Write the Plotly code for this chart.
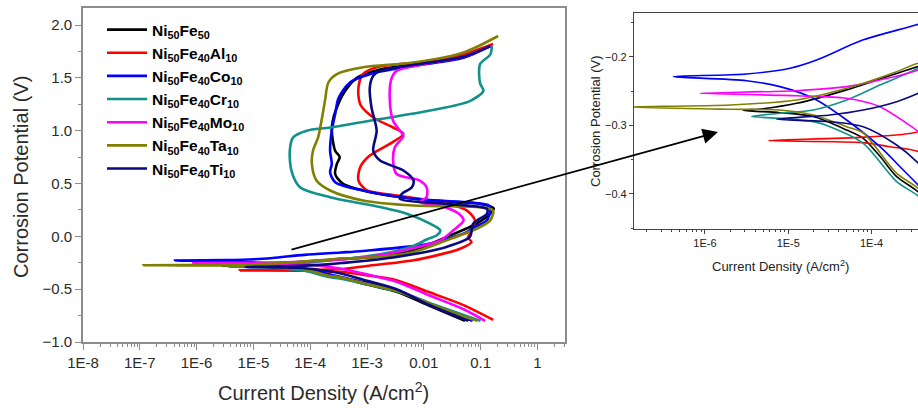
import plotly.graph_objects as go

# ---------------- data (current density A/cm2, potential V) ----------------
names = ["Ni<sub>50</sub>Fe<sub>50</sub>", "Ni<sub>50</sub>Fe<sub>40</sub>Al<sub>10</sub>",
         "Ni<sub>50</sub>Fe<sub>40</sub>Co<sub>10</sub>", "Ni<sub>50</sub>Fe<sub>40</sub>Cr<sub>10</sub>",
         "Ni<sub>50</sub>Fe<sub>40</sub>Mo<sub>10</sub>", "Ni<sub>50</sub>Fe<sub>40</sub>Ta<sub>10</sub>",
         "Ni<sub>50</sub>Fe<sub>40</sub>Ti<sub>10</sub>"]
colors = ["#000000", "#ff0000", "#0000ff", "#10918a", "#ff00ff", "#808000", "#0a0a80"]

nife_i = [0.0531, 0.0126, 3.31e-3, 1.0e-3, 3.63e-4, 2.0e-4, 1.26e-4, 7.94e-5, 5.01e-5, 2.0e-5, 7.94e-6, 2.88e-6,
          5.01e-6, 1.26e-5, 5.01e-5, 2.0e-4, 3.63e-4, 1.70e-3, 6.61e-3, 0.0251, 0.0851, 0.148, 0.17, 0.0977,
          0.0129, 1.70e-3, 3.80e-4, 2.75e-4, 2.95e-4, 3.31e-4, 2.75e-4, 2.40e-4, 2.57e-4, 3.80e-4, 6.61e-4,
          1.70e-3, 0.0129, 0.0501, 0.148]
nife_e = [-0.80, -0.657, -0.525, -0.456, -0.397, -0.3747, -0.345, -0.3187, -0.3066, -0.287, -0.2813, -0.278,
          -0.2755, -0.2676, -0.248, -0.224, -0.214, -0.19, -0.132, -0.006, 0.12, 0.214, 0.265, 0.308,
          0.34, 0.40, 0.497, 0.59, 0.686, 0.75, 0.81, 1.0, 1.125, 1.346, 1.50,
          1.58, 1.645, 1.70, 1.80]

al_i = [0.166, 0.0501, 0.0126, 3.31e-3, 1.0e-3, 3.63e-4, 1.66e-4, 7.94e-5, 5.75e-6,
        7.94e-5, 3.63e-4, 1.0e-3, 6.61e-3, 0.0437, 0.0692, 0.0603, 0.0692, 0.0794, 0.0569, 0.0195, 3.31e-3,
        1.0e-3, 7.08e-4, 7.59e-4, 1.12e-3, 2.51e-3, 4.37e-3, 2.88e-3, 1.29e-3, 7.59e-4, 7.08e-4, 8.51e-4,
        1.48e-3, 0.0151, 0.0501, 0.166]
al_e = [-0.79, -0.651, -0.53, -0.415, -0.37, -0.338, -0.331, -0.325, -0.322,
        -0.317, -0.309, -0.28, -0.227, -0.117, -0.054, -0.013, 0.057, 0.151, 0.245, 0.324, 0.387,
        0.434, 0.528, 0.654, 0.764, 0.875, 0.97, 1.03, 1.125, 1.25, 1.41, 1.535,
        1.60, 1.66, 1.72, 1.82]

co_i = [0.0724, 0.0501, 0.0126, 3.31e-3, 1.0e-3, 3.63e-4, 2.40e-4, 1.26e-4, 5.01e-5, 2.0e-5, 7.94e-6, 3.16e-6, 4.17e-7,
        3.16e-6, 1.05e-5, 2.19e-5, 7.94e-5, 3.47e-4, 8.51e-4, 0.0129, 0.0569, 0.0741, 0.129, 0.148, 0.14,
        0.0501, 6.61e-3, 8.51e-4, 2.75e-4, 2.24e-4, 2.40e-4, 2.24e-4, 2.40e-4, 2.75e-4, 3.16e-4, 5.01e-4,
        1.12e-3, 6.61e-3, 0.0501, 0.148]
co_e = [-0.80, -0.77, -0.635, -0.51, -0.44, -0.387, -0.365, -0.331, -0.292, -0.2603, -0.2433, -0.2346, -0.2287,
        -0.2248, -0.2165, -0.2044, -0.175, -0.153, -0.138, -0.069, 0.04, 0.08, 0.151, 0.25, 0.292,
        0.324, 0.355, 0.434, 0.512, 0.607, 0.686, 0.81, 1.0, 1.158, 1.31, 1.456,
        1.535, 1.613, 1.69, 1.80]

cr_i = [0.1, 0.0126, 3.31e-3, 1.0e-3, 3.63e-4, 2.0e-4, 7.94e-5, 3.16e-5, 2.0e-5, 7.94e-6, 3.63e-6,
        7.94e-6, 2.0e-5, 5.01e-5, 1.26e-4, 3.63e-4, 1.70e-3, 6.61e-3, 0.0112, 0.017, 0.0195, 0.0129, 5.01e-3,
        1.70e-3, 2.24e-4, 6.61e-5, 4.68e-5, 4.37e-5, 5.01e-5, 8.71e-5, 2.24e-4, 1.70e-3, 0.0129, 0.0646,
        0.112, 0.0977, 0.0977, 0.148, 0.158]
cr_e = [-0.80, -0.63, -0.52, -0.455, -0.403, -0.382, -0.326, -0.3017, -0.2944, -0.2895, -0.287,
        -0.2822, -0.2774, -0.2628, -0.2409, -0.2165, -0.17, -0.09, -0.03, 0.01, 0.057, 0.12, 0.214,
        0.277, 0.371, 0.465, 0.62, 0.81, 0.937, 1.0, 1.03, 1.11, 1.19, 1.28,
        1.377, 1.45, 1.63, 1.72, 1.80]

mo_i = [0.12, 0.0501, 0.0126, 3.31e-3, 1.0e-3, 3.63e-4, 2.63e-4, 1.26e-4, 5.01e-5, 1.26e-5, 8.71e-7,
        1.26e-5, 5.01e-5, 1.26e-4, 3.63e-4, 1.70e-3, 6.61e-3, 0.0195, 0.0331, 0.0501, 0.0398, 0.0195,
        8.51e-3, 0.0112, 0.0112, 8.51e-3, 3.31e-3, 2.88e-3, 3.09e-3, 4.37e-3, 3.8e-3, 2.88e-3, 2.51e-3,
        2.69e-3, 3.31e-3, 0.0129, 0.0501, 0.148]
mo_e = [-0.80, -0.69, -0.56, -0.43, -0.36, -0.309, -0.2968, -0.2725, -0.2603, -0.2565, -0.253,
        -0.2492, -0.2433, -0.2336, -0.219, -0.18, -0.11, -0.038, 0.057, 0.151, 0.22, 0.29,
        0.324, 0.371, 0.465, 0.528, 0.59, 0.717, 0.843, 0.95, 1.0, 1.094, 1.31,
        1.49, 1.566, 1.64, 1.70, 1.80]

ta_i = [0.0891, 0.0501, 0.0126, 3.31e-3, 1.0e-3, 3.63e-4, 2.0e-4, 7.94e-5, 5.01e-5, 2.0e-5, 7.94e-6, 2.0e-6, 1.15e-7,
        2.0e-6, 1.26e-5, 5.01e-5, 2.0e-4, 3.63e-4, 1.70e-3, 6.61e-3, 0.0251, 0.0851, 0.148, 0.166, 0.0977,
        6.61e-3, 8.51e-4, 2.24e-4, 1.29e-4, 1.07e-4, 1.12e-4, 1.38e-4, 1.58e-4, 1.82e-4, 2.09e-4, 2.95e-4,
        8.51e-4, 6.61e-3, 0.0501, 0.204]
ta_e = [-0.80, -0.76, -0.635, -0.515, -0.45, -0.392, -0.370, -0.311, -0.3017, -0.2847, -0.2774, -0.2764, -0.273,
        -0.270, -0.2628, -0.2457, -0.2214, -0.209, -0.195, -0.148, -0.038, 0.072, 0.151, 0.245, 0.276,
        0.292, 0.34, 0.434, 0.528, 0.686, 0.81, 0.937, 1.094, 1.283, 1.456, 1.535,
        1.60, 1.645, 1.74, 1.896]

ti_i = [0.0603, 0.0126, 3.31e-3, 1.0e-3, 3.63e-4, 2.0e-4, 7.94e-5, 3.16e-5, 7.24e-6,
        3.16e-5, 7.94e-5, 2.0e-4, 3.63e-4, 3.31e-3, 0.0251, 0.0646, 0.0741, 0.129, 0.129, 0.0251, 3.8e-3,
        4.07e-3, 6.17e-3, 6.61e-3, 4.37e-3, 1.70e-3, 1.29e-3, 1.48e-3, 1.20e-3, 1.12e-3, 1.29e-3, 1.70e-3,
        0.0129, 0.0501, 0.148]
ti_e = [-0.80, -0.65, -0.50, -0.42, -0.355, -0.3285, -0.3017, -0.2944, -0.291,
        -0.2847, -0.2774, -0.2652, -0.253, -0.195, -0.10, -0.006, 0.12, 0.214, 0.26, 0.308, 0.355,
        0.40, 0.465, 0.528, 0.623, 0.717, 0.81, 1.0, 1.22, 1.41, 1.52, 1.566,
        1.645, 1.70, 1.80]

series = [(nife_i, nife_e), (al_i, al_e), (co_i, co_e), (cr_i, cr_e), (mo_i, mo_e), (ta_i, ta_e), (ti_i, ti_e)]

main_xticks = [1e-8, 1e-7, 1e-6, 1e-5, 1e-4, 1e-3, 1e-2, 1e-1, 1]
main_xlabels = ["1E-8", "1E-7", "1E-6", "1E-5", "1E-4", "1E-3", "0.01", "0.1", "1"]
main_yticks = [-1.0, -0.5, 0.0, 0.5, 1.0, 1.5, 2.0]
inset_xticks = [1e-6, 1e-5, 1e-4]
inset_xlabels = ["1E-6", "1E-5", "1E-4"]
inset_yticks = [-0.4, -0.3, -0.2]

# ---------------- figure ----------------
W, H = 918, 408
fig = go.Figure()
FONT = "Liberation Sans, Arial, sans-serif"

for (xi, ye), nm, c in zip(series, names, colors):
    fig.add_trace(go.Scatter(x=xi, y=ye, mode="lines", name="<b>" + nm + "</b>",
                             line=dict(color=c, width=2.6, shape="spline", smoothing=0.8),
                             xaxis="x", yaxis="y", showlegend=True))
for (xi, ye), nm, c in zip(series, names, colors):
    fig.add_trace(go.Scatter(x=xi, y=ye, mode="lines", name=nm,
                             line=dict(color=c, width=1.6, shape="spline", smoothing=0.8),
                             xaxis="x2", yaxis="y2", showlegend=False))

minor_main = [m * d for d in main_xticks[:-1] for m in range(2, 10)] + [2, 3]
minor_inset = [m * d for d in [1e-7, 1e-6, 1e-5, 1e-4] for m in range(2, 10)]

axis_gray = "#8c8c8c"
tickfont = dict(family=FONT, size=15, color="#2a2a2a")

fig.update_layout(
    template="none",
    width=W, height=H, margin=dict(l=0, r=0, t=0, b=0, autoexpand=False),
    paper_bgcolor="white", plot_bgcolor="white",
    showlegend=True,
    legend=dict(x=102 / W, y=1 - 13 / H, xanchor="left", yanchor="top",
                bgcolor="rgba(0,0,0,0)", font=dict(family=FONT, size=15.5, color="black"),
                tracegroupgap=0, itemwidth=40, borderwidth=0),
    xaxis=dict(type="log", range=[-8, 0.486], domain=[83 / W, 565 / W], anchor="y", automargin=False,
               showline=True, mirror=True, linecolor=axis_gray, linewidth=1.6,
               ticks="outside", ticklen=6, tickcolor=axis_gray, tickwidth=1.2,
               tickvals=main_xticks, ticktext=main_xlabels, tickfont=tickfont,
               minor=dict(tickvals=minor_main, ticks="outside", ticklen=3, tickcolor=axis_gray),
               showgrid=False, zeroline=False),
    yaxis=dict(range=[-1.0, 2.161], domain=[1 - 342 / H, 1 - 8 / H], anchor="x", automargin=False,
               showline=True, mirror=True, linecolor=axis_gray, linewidth=1.6,
               ticks="outside", ticklen=6, tickcolor=axis_gray, tickwidth=1.2,
               tickvals=main_yticks, tickformat=".1f", tickfont=tickfont,
               minor=dict(tickvals=[-0.75, -0.25, 0.25, 0.75, 1.25, 1.75], ticks="outside",
                          ticklen=3, tickcolor=axis_gray),
               showgrid=False, zeroline=False),
    xaxis2=dict(type="log", range=[-6.852, -3.443], domain=[634 / W, 1.0], anchor="y2", automargin=False,
                showline=True, mirror=True, linecolor="#444", linewidth=1.2,
                ticks="outside", ticklen=4, tickcolor="#444",
                tickvals=inset_xticks, ticktext=inset_xlabels,
                tickfont=dict(family=FONT, size=11, color="#222"),
                minor=dict(tickvals=minor_inset, ticks="outside", ticklen=2, tickcolor="#444"),
                showgrid=False, zeroline=False),
    yaxis2=dict(range=[-0.4511, -0.1358], domain=[1 - 229 / H, 1 - 13 / H], anchor="x2", automargin=False,
                showline=True, mirror=False, linecolor="#444", linewidth=1.2,
                ticks="outside", ticklen=4, tickcolor="#444",
                tickvals=inset_yticks, tickformat=".1f",
                tickfont=dict(family=FONT, size=11, color="#222"),
                minor=dict(tickvals=[-0.45, -0.35, -0.25, -0.15], ticks="outside", ticklen=2,
                           tickcolor="#444"),
                showgrid=False, zeroline=False),
    annotations=[
        dict(text="Corrosion Potential (V)", x=21 / W, y=1 - 177 / H, xref="paper", yref="paper",
             textangle=-90, showarrow=False, xanchor="center", yanchor="middle",
             font=dict(family=FONT, size=20, color="#2a2a2a")),
        dict(text="Current Density (A/cm<sup>2</sup>)", x=323 / W, y=1 - 391 / H, xref="paper",
             yref="paper", showarrow=False, xanchor="center", yanchor="middle",
             font=dict(family=FONT, size=20, color="#2a2a2a")),
        dict(text="Current Density (A/cm<sup>2</sup>)", x=780 / W, y=1 - 266 / H, xref="paper",
             yref="paper", showarrow=False, xanchor="center", yanchor="middle",
             font=dict(family=FONT, size=13, color="#222")),
        dict(text="Corrosion Potential (V)", x=595 / W, y=1 - 121 / H, xref="paper", yref="paper",
             textangle=-90, showarrow=False, xanchor="center", yanchor="middle",
             font=dict(family=FONT, size=13, color="#222")),
        dict(text="", x=718 / W, y=1 - 132 / H, xref="paper", yref="paper",
             showarrow=True, ax=-428, ay=118, arrowhead=2, arrowsize=1.7, arrowwidth=1.8,
             arrowcolor="black"),
    ],
)

fig.write_html("out.html")
